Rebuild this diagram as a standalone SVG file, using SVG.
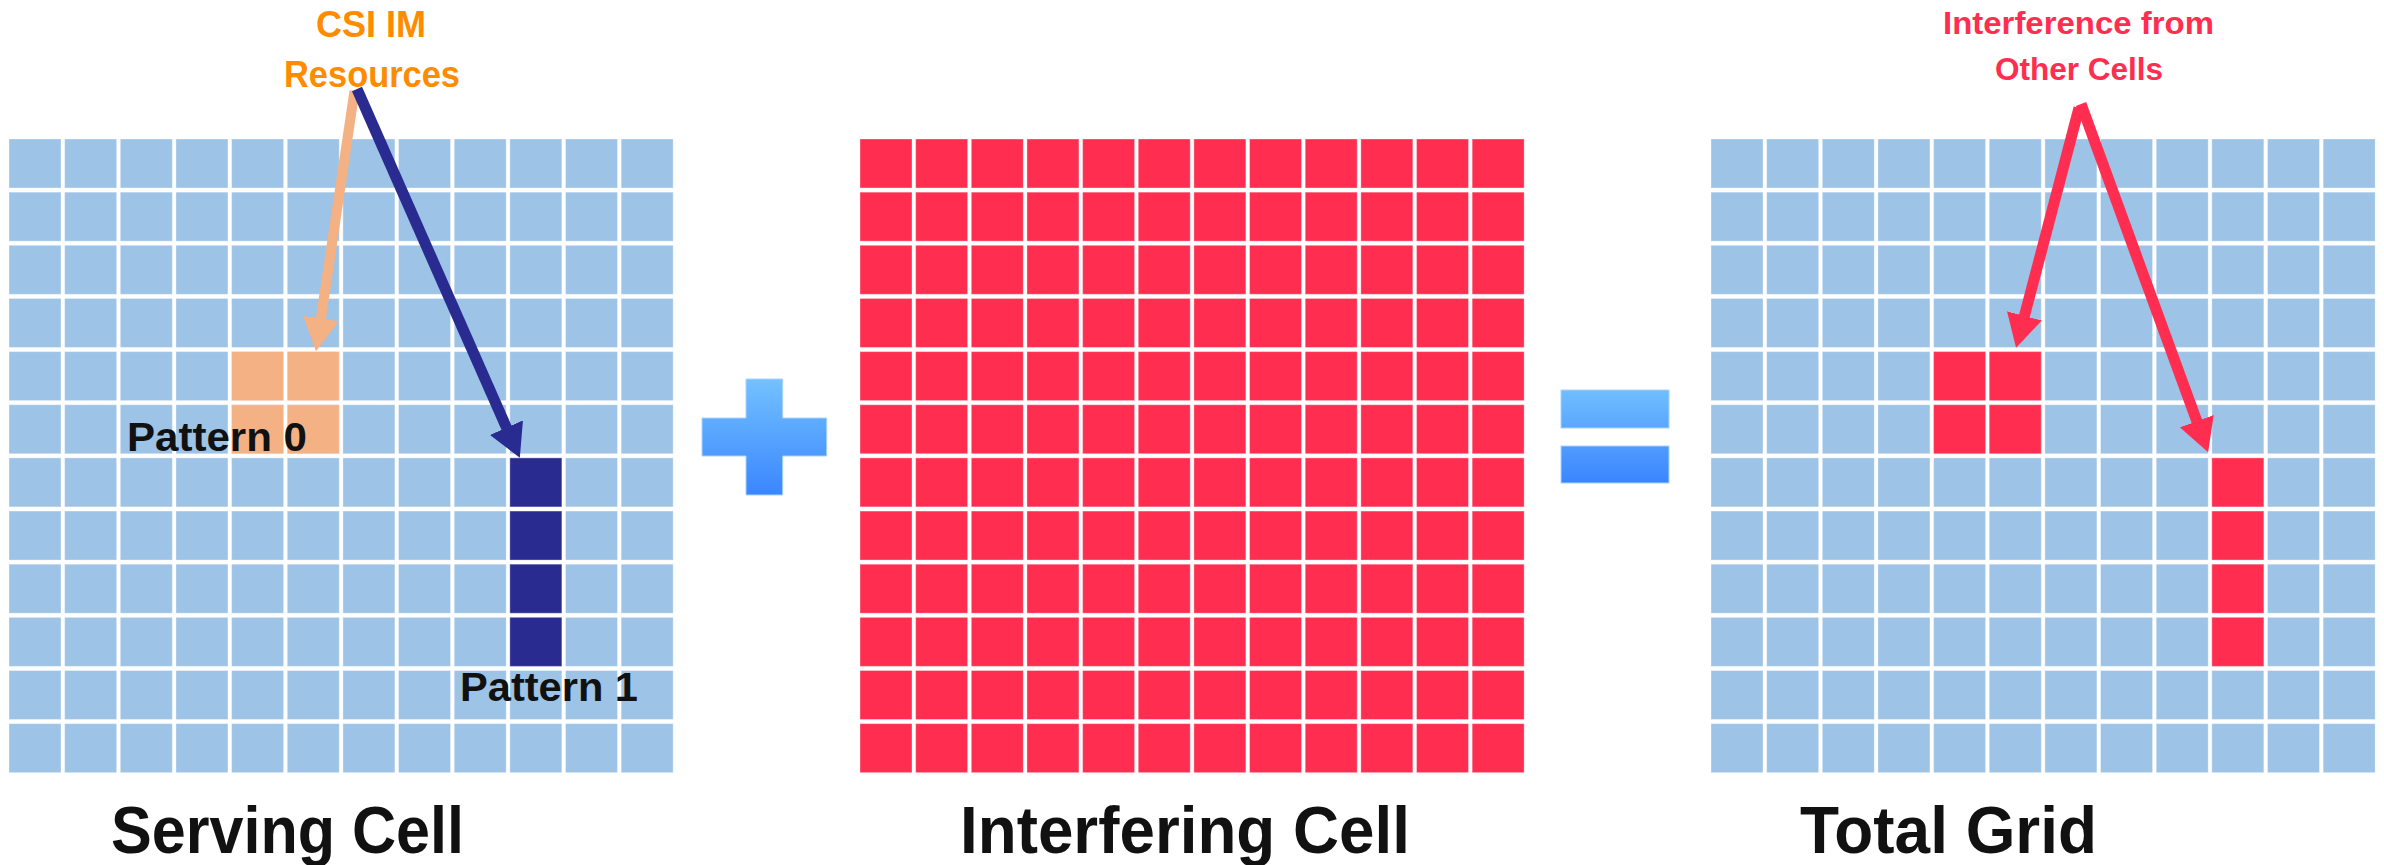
<svg xmlns="http://www.w3.org/2000/svg" xmlns:xlink="http://www.w3.org/1999/xlink" width="2384" height="865" viewBox="0 0 2384 865">
<style>
  .cap { font-family: "Liberation Sans", Arial, sans-serif; font-weight: bold; }
  .title { font-size: 66px; fill: #111111; }
  .pat { font-size: 41px; fill: #111111; }
  .note-o { font-size: 36px; fill: #FF8C00; }
  .note-r { font-size: 32px; fill: #FF2E50; }
  .cell { stroke: #ffffff; stroke-opacity: 0.35; stroke-width: 1; }
  .blue { fill: #9DC3E6; }
  .red { fill: #FF2E50; }
  .orange { fill: #F4B183; }
  .navy { fill: #292B91; }
</style>
<defs>
  <g id="row">
    <rect class="cell" x="0" y="0" width="52" height="49"/>
    <rect class="cell" x="55.65" y="0" width="52" height="49"/>
    <rect class="cell" x="111.3" y="0" width="52" height="49"/>
    <rect class="cell" x="166.95" y="0" width="52" height="49"/>
    <rect class="cell" x="222.6" y="0" width="52" height="49"/>
    <rect class="cell" x="278.25" y="0" width="52" height="49"/>
    <rect class="cell" x="333.9" y="0" width="52" height="49"/>
    <rect class="cell" x="389.55" y="0" width="52" height="49"/>
    <rect class="cell" x="445.2" y="0" width="52" height="49"/>
    <rect class="cell" x="500.85" y="0" width="52" height="49"/>
    <rect class="cell" x="556.5" y="0" width="52" height="49"/>
    <rect class="cell" x="612.15" y="0" width="52" height="49"/>
  </g>
  <g id="grid">
    <use xlink:href="#row" href="#row" y="0"/>
    <use xlink:href="#row" href="#row" y="53.15"/>
    <use xlink:href="#row" href="#row" y="106.3"/>
    <use xlink:href="#row" href="#row" y="159.45"/>
    <use xlink:href="#row" href="#row" y="212.6"/>
    <use xlink:href="#row" href="#row" y="265.75"/>
    <use xlink:href="#row" href="#row" y="318.9"/>
    <use xlink:href="#row" href="#row" y="372.05"/>
    <use xlink:href="#row" href="#row" y="425.2"/>
    <use xlink:href="#row" href="#row" y="478.35"/>
    <use xlink:href="#row" href="#row" y="531.5"/>
    <use xlink:href="#row" href="#row" y="584.65"/>
  </g>
  <linearGradient id="gPlus" gradientUnits="userSpaceOnUse" x1="0" y1="379" x2="0" y2="495">
    <stop offset="0" stop-color="#73C1FF"/>
    <stop offset="1" stop-color="#3A86FF"/>
  </linearGradient>
  <linearGradient id="gEq" gradientUnits="userSpaceOnUse" x1="0" y1="390" x2="0" y2="483">
    <stop offset="0" stop-color="#70BEFF"/>
    <stop offset="1" stop-color="#3A85FF"/>
  </linearGradient>
  <marker id="mOrange" viewBox="0 0 33 36" markerWidth="33" markerHeight="36" refX="0.5" refY="18" markerUnits="userSpaceOnUse" orient="auto">
    <path d="M0,0 L33,18 L0,36 Z" fill="#F4B183"/>
  </marker>
  <marker id="mNavy" viewBox="0 0 33 36" markerWidth="33" markerHeight="36" refX="0.5" refY="18" markerUnits="userSpaceOnUse" orient="auto">
    <path d="M0,0 L33,18 L0,36 Z" fill="#292B91"/>
  </marker>
  <marker id="mRed" viewBox="0 0 33 36" markerWidth="33" markerHeight="36" refX="0.5" refY="18" markerUnits="userSpaceOnUse" orient="auto">
    <path d="M0,0 L33,18 L0,36 Z" fill="#FF2E50"/>
  </marker>
</defs>
<rect x="0" y="0" width="2384" height="865" fill="#ffffff"/>

<g id="serving-cell">
  <use xlink:href="#grid" href="#grid" x="9" y="139" class="blue"/>
  <rect class="cell orange" x="231.6" y="351.6" width="52" height="49"/>
  <rect class="cell orange" x="287.25" y="351.6" width="52" height="49"/>
  <rect class="cell orange" x="231.6" y="404.75" width="52" height="49"/>
  <rect class="cell orange" x="287.25" y="404.75" width="52" height="49"/>
  <rect class="cell navy" x="509.85" y="457.9" width="52" height="49"/>
  <rect class="cell navy" x="509.85" y="511.05" width="52" height="49"/>
  <rect class="cell navy" x="509.85" y="564.2" width="52" height="49"/>
  <rect class="cell navy" x="509.85" y="617.35" width="52" height="49"/>
  <text class="cap pat" x="127" y="451" textLength="180" lengthAdjust="spacingAndGlyphs">Pattern 0</text>
  <text class="cap pat" x="460" y="701" textLength="178" lengthAdjust="spacingAndGlyphs">Pattern 1</text>
  <text class="cap title" x="111" y="853" textLength="353" lengthAdjust="spacingAndGlyphs">Serving Cell</text>
</g>

<g id="csi-im-label">
  <text class="cap note-o" x="316" y="37" textLength="110" lengthAdjust="spacingAndGlyphs">CSI IM</text>
  <text class="cap note-o" x="284" y="87" textLength="176" lengthAdjust="spacingAndGlyphs">Resources</text>
</g>

<g id="plus-sign">
  <path d="M746,379 H782.7 V418 H826.7 V456 H782.7 V495 H746 V456 H702 V418 H746 Z" fill="url(#gPlus)" stroke="#A6D3FF" stroke-width="1"/>
</g>

<g id="interfering-cell">
  <use xlink:href="#grid" href="#grid" x="860" y="139" class="red"/>
  <text class="cap title" x="960" y="853" textLength="450" lengthAdjust="spacingAndGlyphs">Interfering Cell</text>
</g>

<g id="equals-sign">
  <rect x="1561" y="390" width="108" height="38" fill="url(#gEq)" stroke="#A6D3FF" stroke-width="1"/>
  <rect x="1561" y="446" width="108" height="37" fill="url(#gEq)" stroke="#A6D3FF" stroke-width="1"/>
</g>

<g id="total-grid">
  <use xlink:href="#grid" href="#grid" x="1711" y="139" class="blue"/>
  <rect class="cell red" x="1933.6" y="351.6" width="52" height="49"/>
  <rect class="cell red" x="1989.25" y="351.6" width="52" height="49"/>
  <rect class="cell red" x="1933.6" y="404.75" width="52" height="49"/>
  <rect class="cell red" x="1989.25" y="404.75" width="52" height="49"/>
  <rect class="cell red" x="2211.85" y="457.9" width="52" height="49"/>
  <rect class="cell red" x="2211.85" y="511.05" width="52" height="49"/>
  <rect class="cell red" x="2211.85" y="564.2" width="52" height="49"/>
  <rect class="cell red" x="2211.85" y="617.35" width="52" height="49"/>
  <text class="cap title" x="1800" y="853" textLength="297" lengthAdjust="spacingAndGlyphs">Total Grid</text>
</g>

<g id="interference-label">
  <text class="cap note-r" x="1943" y="34" textLength="271" lengthAdjust="spacingAndGlyphs">Interference from</text>
  <text class="cap note-r" x="1995" y="80" textLength="168" lengthAdjust="spacingAndGlyphs">Other Cells</text>
</g>

<g id="connectors" fill="none">
  <line x1="354.5" y1="91" x2="320.8" y2="319.05" stroke="#F4B183" stroke-width="10" marker-end="url(#mOrange)"/>
  <line x1="357" y1="89" x2="506.7" y2="428.1" stroke="#292B91" stroke-width="11" marker-end="url(#mNavy)"/>
  <line x1="2079" y1="108" x2="2024.3" y2="316.4" stroke="#FF2E50" stroke-width="11" marker-end="url(#mRed)"/>
  <line x1="2081" y1="104" x2="2197" y2="421.7" stroke="#FF2E50" stroke-width="11" marker-end="url(#mRed)"/>
</g>
</svg>
